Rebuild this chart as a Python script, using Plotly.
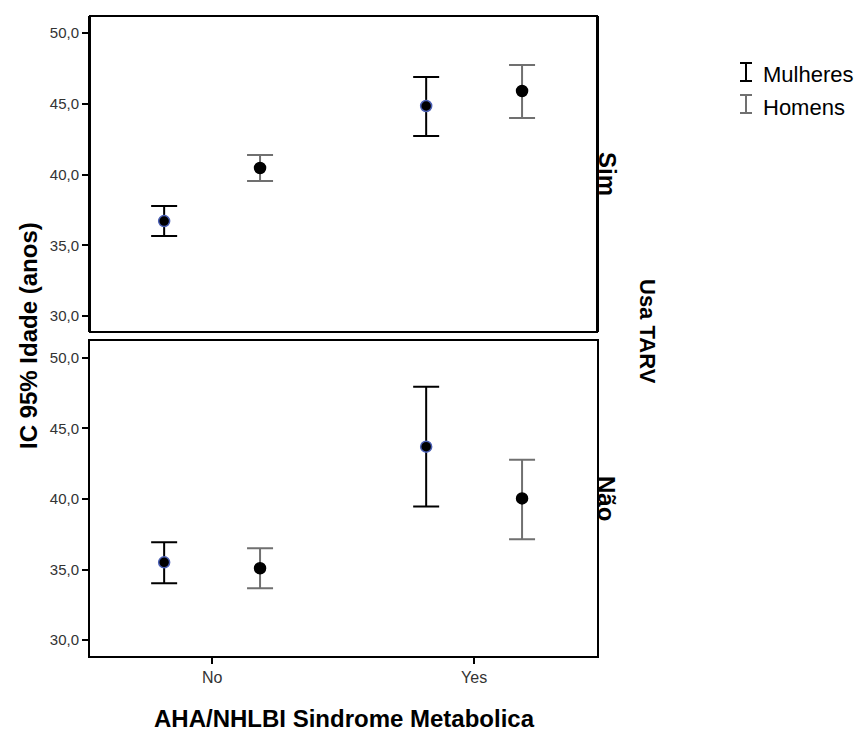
import plotly.graph_objects as go

categories = ["No", "Yes"]
panels = ["Sim", "Não"]
groups = ["Mulheres", "Homens"]

# means and CI bounds per panel, per group, per category
mean_sim_mulheres = [36.71, 44.84]
upper_sim_mulheres = [37.77, 46.89]
lower_sim_mulheres = [35.65, 42.72]
mean_sim_homens = [40.46, 45.90]
upper_sim_homens = [41.38, 47.74]
lower_sim_homens = [39.54, 43.99]

mean_nao_mulheres = [35.51, 43.71]
upper_nao_mulheres = [36.93, 47.95]
lower_nao_mulheres = [34.03, 39.47]
mean_nao_homens = [35.09, 40.04]
upper_nao_homens = [36.50, 42.79]
lower_nao_homens = [33.67, 37.14]

ytickvals = [30, 35, 40, 45, 50]

FONT = "Liberation Sans, Arial, sans-serif"
SHIFT = 8  # page body margin
W, H = 863 - SHIFT, 731 - SHIFT
L, R, T, B = 90 - SHIFT, 597 - SHIFT, 16 - SHIFT, 656 - SHIFT

offset = 0.183
xpos = list(range(len(categories)))

fig = go.Figure()

def add(mean, up, lo, dx, color, mcolor, mline, size, yaxis):
    fig.add_trace(go.Scatter(
        x=[p + dx for p in xpos], y=mean, mode="markers",
        xaxis="x", yaxis=yaxis, showlegend=False,
        marker=dict(color=mcolor, size=size, line=dict(color=mline, width=1.5)),
        error_y=dict(type="data", symmetric=False,
                     array=[u - m for u, m in zip(up, mean)],
                     arrayminus=[m - l for m, l in zip(mean, lo)],
                     color=color, thickness=2, width=13),
    ))

W_COL = "#000000"
M_COL = "#707070"
add(mean_sim_mulheres, upper_sim_mulheres, lower_sim_mulheres, -offset, W_COL, "black", "#4a5fb5", 11, "y")
add(mean_sim_homens, upper_sim_homens, lower_sim_homens, offset, M_COL, "black", "black", 11, "y")
add(mean_nao_mulheres, upper_nao_mulheres, lower_nao_mulheres, -offset, W_COL, "black", "#4a5fb5", 11, "y2")
add(mean_nao_homens, upper_nao_homens, lower_nao_homens, offset, M_COL, "black", "black", 11, "y2")

ph = B - T

def px(x):
    return (x - SHIFT - L) / (R - L)

def py(y):
    return (B - (y - SHIFT)) / ph

top_dom = [py(332), 1.0]
bot_dom = [0.0, py(341)]
yrange = [28.87, 51.2]

yax = dict(range=yrange, tickvals=ytickvals, tickformat=".1f",
           ticks="outside", ticklen=6, tickwidth=2, tickcolor="black",
           showline=True, mirror=True, linecolor="black", linewidth=2,
           showgrid=False, zeroline=False,
           tickfont=dict(family=FONT, size=15, color="#333333"))

fig.update_layout(
    width=W, height=H,
    margin=dict(l=L, r=W - R, t=T, b=H - B),
    plot_bgcolor="white", paper_bgcolor="white",
    separators=",.",
    showlegend=False,
    font=dict(family=FONT),
    xaxis=dict(range=[-0.466, 1.469], tickvals=xpos, ticktext=categories,
               ticks="outside", ticklen=6, tickwidth=2, tickcolor="black",
               showline=True, mirror=True, linecolor="black", linewidth=2,
               showgrid=False, zeroline=False, anchor="y2",
               tickfont=dict(family=FONT, size=16, color="#333333")),
    yaxis=dict(domain=top_dom, anchor="x", **yax),
    yaxis2=dict(domain=bot_dom, anchor="x", **yax),
)

# frame for top panel (x axis only anchored on bottom)
fig.add_shape(type="rect", xref="paper", yref="paper",
              x0=0, x1=1, y0=top_dom[0], y1=top_dom[1],
              line=dict(color="black", width=2))

def A(text, x, y, size, angle=0, bold=True, xanchor="center"):
    return dict(text=("<b>%s</b>" % text) if bold else text, x=px(x), y=py(y),
                xref="paper", yref="paper", showarrow=False, textangle=angle,
                xanchor=xanchor, yanchor="middle",
                font=dict(size=size, color="black", family=FONT))

ann = [
    A("AHA/NHLBI Sindrome Metabolica", 344, 718, 24),
    A("IC 95% Idade (anos)", 28, 336, 24, -90),
    A(panels[0], 607, 174, 24, 90),
    A(panels[1], 607, 498, 24, 90),
    A("Usa TARV", 648, 331, 22, 90),
]

# legend
leg_cols = [W_COL, M_COL]
leg_y = [72, 104]
for g, c, yy in zip(groups, leg_cols, leg_y):
    ann.append(A(g, 761, yy + 3, 22, bold=False, xanchor="left"))
    fig.add_shape(type="line", xref="paper", yref="paper",
                  x0=px(746), x1=px(746), y0=py(yy - 9), y1=py(yy + 9),
                  line=dict(color=c, width=2))
    for e in (yy - 9, yy + 9):
        fig.add_shape(type="line", xref="paper", yref="paper",
                      x0=px(740), x1=px(752), y0=py(e), y1=py(e),
                      line=dict(color=c, width=2))

fig.update_layout(annotations=ann)
fig.write_html("out.html")
